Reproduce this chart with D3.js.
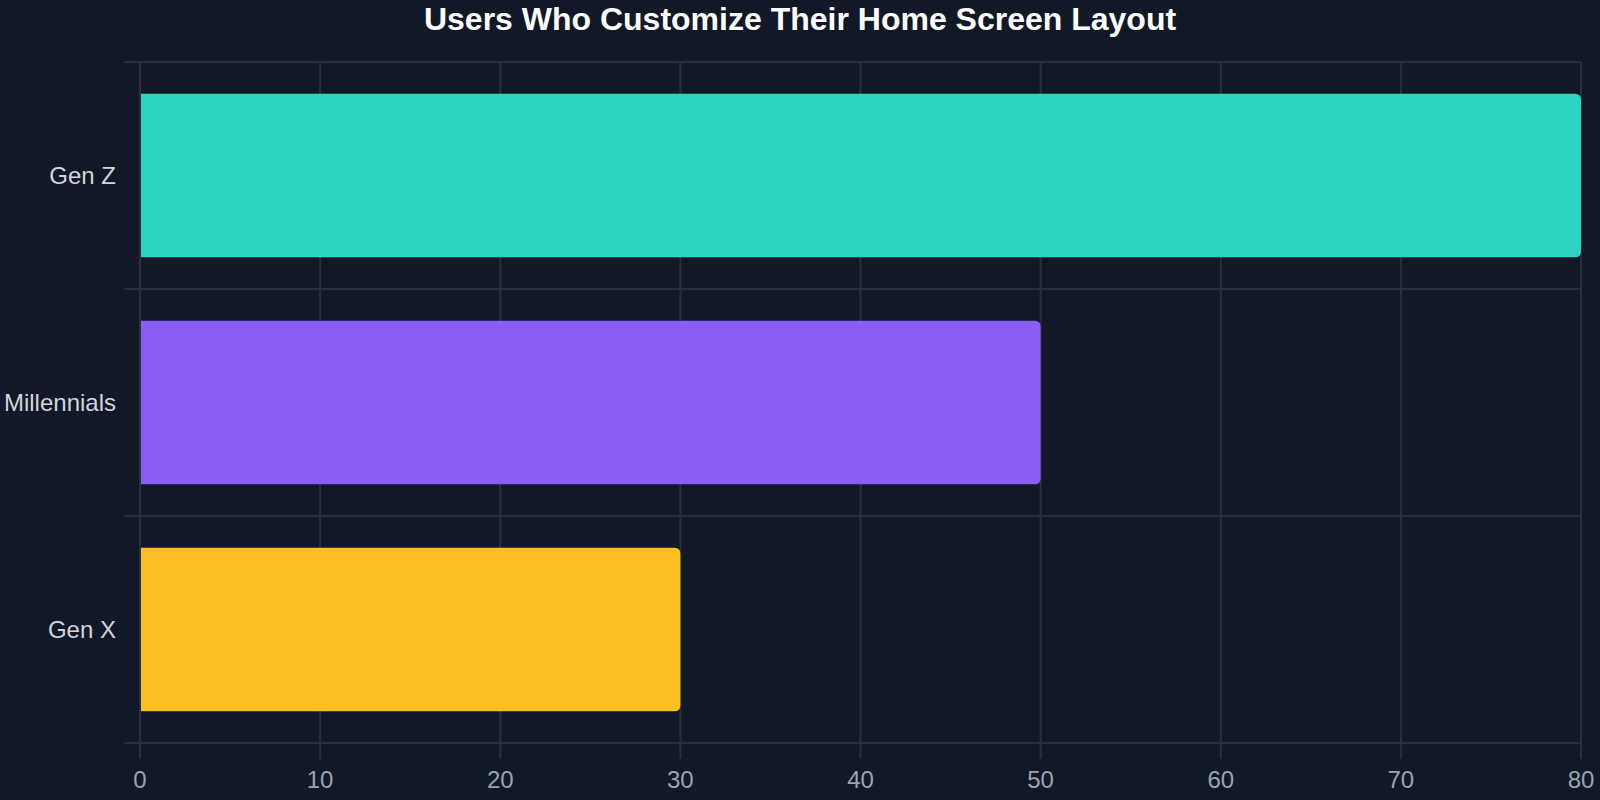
<!DOCTYPE html>
<html>
<head>
<meta charset="utf-8">
<script src="https://cdn.jsdelivr.net/npm/d3@7"></script>
<style>
  html, body { margin: 0; padding: 0; background: #111827; }
  svg { display: block; font-family: "Liberation Sans", Arial, sans-serif; }
</style>
</head>
<body>
<div id="chart"></div>
<script>
// data
const categories = ["Gen Z", "Millennials", "Gen X"];
const values = [80, 50, 30];
const barColors = ["#2dd4bf", "#8b5cf6", "#fbbf24"];
const xTicks = [0, 10, 20, 30, 40, 50, 60, 70, 80];
const chartTitle = "Users Who Customize Their Home Screen Layout";

const W = 1600, H = 800;
const m = { top: 62, right: 19, bottom: 57, left: 140 };
const gridColor = "#282f3c";

const svg = d3.select("#chart").append("svg")
  .attr("width", W)
  .attr("height", H);

svg.append("rect").attr("width", W).attr("height", H).attr("fill", "#111827");

const x = d3.scaleLinear().domain([0, 80]).range([m.left, W - m.right]);
const y = d3.scaleBand().domain(categories)
  .range([m.top, H - m.bottom])
  .paddingInner(0.28)
  .paddingOuter(0.14);

// band boundaries (grid sits between categories)
const step = y.step();
const bounds = d3.range(categories.length + 1).map(i => m.top + i * step);

const grid = svg.append("g").attr("stroke", gridColor).attr("stroke-width", 2);

// vertical grid + bottom tick marks
grid.selectAll("line.v").data(xTicks).join("line")
  .attr("x1", d => x(d))
  .attr("x2", d => x(d))
  .attr("y1", m.top)
  .attr("y2", H - m.bottom + 16);

// horizontal grid at category boundaries + left tick marks
grid.selectAll("line.h").data(bounds).join("line")
  .attr("x1", m.left - 16)
  .attr("x2", W - m.right)
  .attr("y1", d => d)
  .attr("y2", d => d);

// bars, rounded on the value end only
const r = 6;
function barPath(x0, x1, y0, h) {
  const rr = Math.min(r, (x1 - x0) / 2, h / 2);
  return `M${x0},${y0}H${x1 - rr}Q${x1},${y0} ${x1},${y0 + rr}` +
    `V${y0 + h - rr}Q${x1},${y0 + h} ${x1 - rr},${y0 + h}H${x0}Z`;
}

svg.append("g").selectAll("path").data(categories).join("path")
  .attr("d", (c, i) => barPath(x(0) + 1, x(values[i]), y(c), y.bandwidth()))
  .attr("fill", (c, i) => barColors[i]);

// y labels
svg.append("g").selectAll("text").data(categories).join("text")
  .attr("x", m.left - 24)
  .attr("y", c => y(c) + y.bandwidth() / 2)
  .attr("dy", "0.35em")
  .attr("text-anchor", "end")
  .attr("fill", "#d1d5db")
  .style("font-size", "24px")
  .text(c => c);

// x labels
svg.append("g").selectAll("text").data(xTicks).join("text")
  .attr("x", d => x(d))
  .attr("y", 788)
  .attr("text-anchor", "middle")
  .attr("fill", "#9ca3af")
  .style("font-size", "24px")
  .text(d => d);

// title
svg.append("text")
  .attr("x", 800)
  .attr("y", 30)
  .attr("text-anchor", "middle")
  .attr("fill", "#ffffff")
  .style("font-size", "32px")
  .style("font-weight", "bold")
  .text(chartTitle);
</script>
</body>
</html>
